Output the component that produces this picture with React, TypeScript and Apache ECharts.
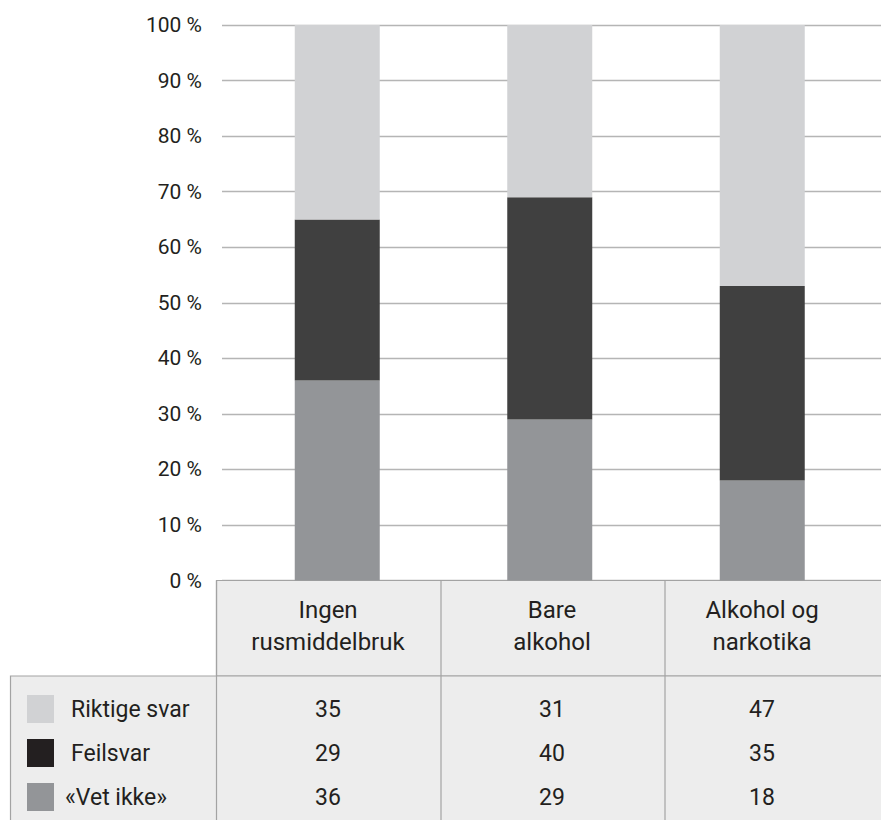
import React, { useEffect, useRef } from "react";
import * as echarts from "echarts";

const categories = ["Ingen\nrusmiddelbruk", "Bare\nalkohol", "Alkohol og\nnarkotika"];
const seriesNames = ["Riktige svar", "Feilsvar", "«Vet ikke»"];
const riktige = [35, 31, 47];
const feilsvar = [29, 40, 35];
const vetIkke = [36, 29, 18];
const yTicks = [0, 10, 20, 30, 40, 50, 60, 70, 80, 90, 100];

const barColors = ["#d1d2d4", "#404040", "#939598"];
const swatchColors = ["#d1d2d4", "#231f20", "#939598"];
const FONT = "Roboto";
const TXT = "#231f20";

export default function App() {
  const ref = useRef<HTMLDivElement>(null);
  useEffect(() => {
    document.body.style.margin = "0";
    const chart = echarts.init(ref.current!, null, { renderer: "svg" });

    const W = 881;
    const gridTop = 25;
    const zeroY = 580.5;
    const gridBottom = 820 - zeroY;
    const headerBottom = 676;
    const colEdges = [216, 440.5, 664.5];
    const textCenters = [328, 552, 762];
    const rowCenters = [709, 753, 797];
    const border = "#a3a3a3";
    const bg = "#ededed";

    const rows = [riktige, feilsvar, vetIkke];

    const graphic: any[] = [];
    graphic.push({
      type: "rect",
      shape: { x: colEdges[0] + 0.5, y: zeroY, width: W - colEdges[0] + 10, height: headerBottom - zeroY },
      style: { fill: bg, stroke: border, lineWidth: 1.2 },
      z: 1,
    });
    graphic.push({
      type: "rect",
      shape: { x: 10.5, y: headerBottom, width: W, height: 200 },
      style: { fill: bg, stroke: border, lineWidth: 1.2 },
      z: 1,
    });
    colEdges.forEach((x) => {
      graphic.push({
        type: "line",
        shape: { x1: x + 0.5, y1: zeroY, x2: x + 0.5, y2: 830 },
        style: { stroke: border, lineWidth: 1.2 },
        z: 2,
      });
    });
    categories.forEach((c, i) => {
      graphic.push({
        type: "text",
        x: textCenters[i],
        y: (zeroY + headerBottom) / 2 - 2,
        style: {
          text: c,
          fill: TXT,
          fontFamily: FONT,
          fontSize: 24,
          lineHeight: 32,
          align: "center",
          verticalAlign: "middle",
        },
        z: 3,
      });
    });
    seriesNames.forEach((n, r) => {
      graphic.push({
        type: "rect",
        shape: { x: 27, y: rowCenters[r] - 14, width: 27, height: 28 },
        style: { fill: swatchColors[r] },
        z: 3,
      });
      graphic.push({
        type: "text",
        x: r === 2 ? 65 : 71,
        y: rowCenters[r],
        style: {
          text: n,
          fill: TXT,
          fontFamily: FONT,
          fontSize: 23,
          align: "left",
          verticalAlign: "middle",
        },
        z: 3,
      });
      rows[r].forEach((v, i) => {
        graphic.push({
          type: "text",
          x: textCenters[i],
          y: rowCenters[r],
          style: {
            text: String(v),
            fill: TXT,
            fontFamily: FONT,
            fontSize: 23,
            align: "center",
            verticalAlign: "middle",
          },
          z: 3,
        });
      });
    });

    chart.setOption({
      animation: false,
      grid: [
        { left: 222, right: 0, top: gridTop, bottom: gridBottom },
        { left: 231, width: 637.5, top: gridTop, bottom: gridBottom },
      ],
      xAxis: [
        { type: "value", gridIndex: 0, min: 0, max: 1, show: false },
        { type: "category", gridIndex: 1, data: categories, show: false },
      ],
      yAxis: [
        {
          type: "value",
          gridIndex: 0,
          min: 0,
          max: 100,
          interval: 10,
          axisLine: { show: false },
          axisTick: { show: false },
          axisLabel: {
            formatter: (v: number) => (yTicks.includes(v) ? `${v} %` : ""),
            color: TXT,
            fontFamily: FONT,
            fontSize: 21,
            margin: 20,
          },
          splitLine: { lineStyle: { color: "#b5b5b5", width: 1.3 } },
        },
        { type: "value", gridIndex: 1, min: 0, max: 100, show: false, splitLine: { show: false } },
      ],
      series: [
        {
          name: seriesNames[2],
          type: "bar",
          xAxisIndex: 1,
          yAxisIndex: 1,
          stack: "s",
          barWidth: 85,
          data: vetIkke,
          itemStyle: { color: barColors[2] },
          z: 3,
        },
        {
          name: seriesNames[1],
          type: "bar",
          xAxisIndex: 1,
          yAxisIndex: 1,
          stack: "s",
          barWidth: 85,
          data: feilsvar,
          itemStyle: { color: barColors[1] },
          z: 3,
        },
        {
          name: seriesNames[0],
          type: "bar",
          xAxisIndex: 1,
          yAxisIndex: 1,
          stack: "s",
          barWidth: 85,
          data: riktige,
          itemStyle: { color: barColors[0] },
          z: 3,
        },
      ],
      graphic,
    });
    return () => chart.dispose();
  }, []);
  return <div ref={ref} style={{ width: 881, height: 820 }} />;
}
